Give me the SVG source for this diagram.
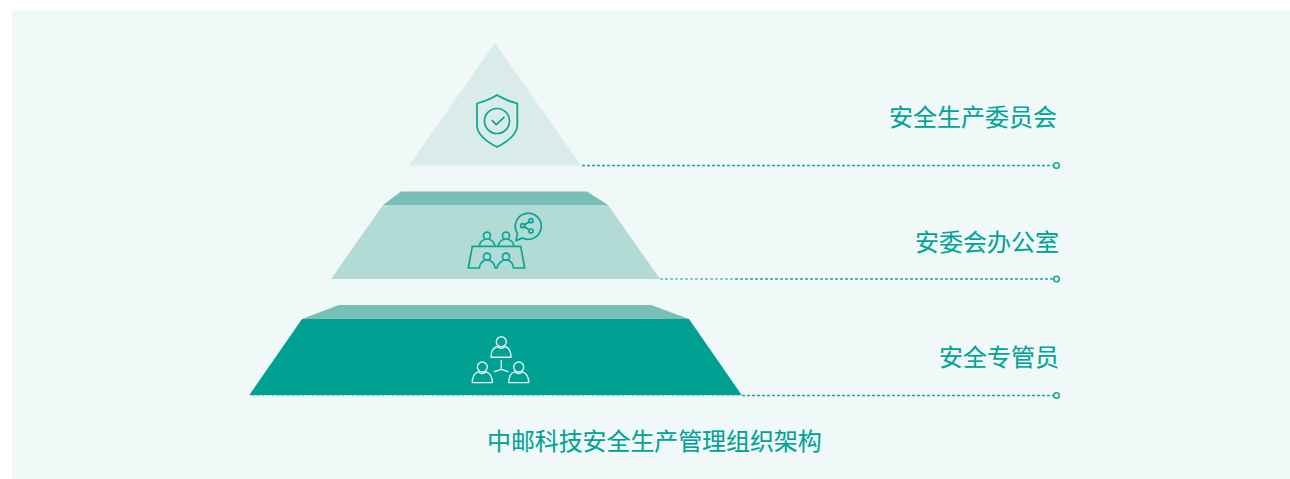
<svg xmlns="http://www.w3.org/2000/svg" width="1290" height="479" viewBox="0 0 1290 479">
<style>
text{font-family:"Noto Sans CJK SC","Noto Sans",sans-serif;font-size:24px;fill:#00a396;stroke:#00a396;stroke-width:.1}
.lbl{text-anchor:end}
.ic{fill:none;stroke:#0aa595;stroke-width:1.7;stroke-linejoin:round;stroke-linecap:round}
.iw{fill:none;stroke:#dff1ee;stroke-width:1.4;stroke-linejoin:round;stroke-linecap:round}
.d{fill:none;stroke:#1aaa9c;stroke-width:1.3;stroke-dasharray:3 2}
.dot{fill:#f0f8f8;stroke:#14a698;stroke-width:1.5}
</style>
<rect x="12" y="10" width="1278" height="469" fill="#f0f8f8"/>
<g id="tier-top">
<polygon points="495,43 581,165.500 409,165.500" fill="#daece9"/>
<path class="ic" d="M497,95 C491,99 484,101.500 477,103.500 V125 C477,135 487,142 497,147 C507,142 517.300,135 517.300,125 V103.500 C510,101.500 503,99 497,95Z"/>
<circle class="ic" cx="497" cy="121" r="12.500"/>
<path class="ic" d="M492.300,120.700 L496.300,124.700 L504,117.300"/>
</g>
<g id="tier-middle">
<polygon points="383,205 401,191.500 587,191.500 608,205" fill="#78c0b7"/>
<polygon points="383,205 608,205 660,279 331,279" fill="#b3dbd5"/>
<path class="ic" d="M516,240.700 L517.500,233.500 A13,13 0 1 1 522.500,237.900Z"/>
<path class="ic" d="M524.500,224.800 L529.300,221.700 M524.500,226.700 L529.300,230"/>
<circle class="ic" cx="531" cy="220.700" r="2"/>
<circle class="ic" cx="522.700" cy="225.700" r="2"/>
<circle class="ic" cx="531" cy="231" r="2"/>
<circle class="ic" cx="487" cy="235.700" r="3.500"/>
<circle class="ic" cx="506" cy="235.700" r="3.500"/>
<path class="ic" d="M479.300,246 C480,241.500 483,240 484.500,239.500 M489.500,239.500 C491,240 494,241.500 495,246 M498.300,246 C499,241.500 502,240 503.500,239.500 M508.500,239.500 C510,240 513,241.500 514,246"/>
<path class="ic" d="M472.300,246.300 H520.700 L524.700,268 H513.500 C513,263 510,261 508.500,260.300 C507,259.800 505,259.800 503.500,260.300 C502,261 498,263 497,268 H495 C494.500,263 491,261 489.500,260.300 C488,259.800 486,259.800 484.500,260.300 C483,261 480,263 479.300,268 H468.300Z"/>
<circle class="ic" cx="487" cy="256.700" r="3.500"/>
<circle class="ic" cx="506" cy="256.700" r="3.500"/>
</g>
<g id="tier-bottom">
<polygon points="302,319 339,305 651,305 689,319" fill="#78c0b7"/>
<polygon points="302,319 689,319 742,395.500 249,395.500" fill="#00a093"/>
<line x1="249" y1="395.500" x2="742" y2="395.500" stroke="#d5eeea" stroke-width="1" stroke-dasharray="3 2"/>
<g id="person-a" class="iw">
<circle cx="501.300" cy="341.700" r="5"/>
<path d="M497,346.500 C493,348 491,351 491,357.300 H511 C511,351 509,348 505.500,346.500 C503,348.500 499.500,348.500 497,346.500Z"/>
</g>
<g class="iw">
<circle cx="482.300" cy="367" r="5"/>
<path d="M478,371.800 C474,373.300 472.300,376.300 472.300,382.600 H492.300 C492.300,376.300 490.300,373.300 486.500,371.800 C484,373.800 480.500,373.800 478,371.800Z"/>
</g>
<g class="iw">
<circle cx="518.700" cy="367" r="5"/>
<path d="M514.400,371.800 C510.400,373.300 508.700,376.300 508.700,382.600 H528.700 C528.700,376.300 526.700,373.300 522.900,371.800 C520.400,373.800 516.900,373.800 514.400,371.800Z"/>
</g>
<path class="iw" d="M501.300,360.700 V369.300 M494.300,371.700 L501.300,369.300 L508,371.700"/>
</g>
<g id="connectors">
<line class="d" x1="582" y1="165.500" x2="1053" y2="165.500"/>
<circle class="dot" cx="1056.500" cy="165.500" r="2.800"/>
<line x1="660" y1="279" x2="735" y2="279" stroke="#5cc4b8" stroke-width="1.300" stroke-dasharray="3 2"/>
<line class="d" x1="735" y1="279" x2="1053" y2="279"/>
<circle class="dot" cx="1056.500" cy="279" r="2.800"/>
<line class="d" x1="742" y1="395.500" x2="1053" y2="395.500"/>
<circle class="dot" cx="1056.500" cy="395.500" r="2.800"/>
</g>
<g id="label-1"><text class="lbl" x="1057" y="126">安全生产委员会</text></g>
<g id="label-2"><text class="lbl" x="1059" y="251">安委会办公室</text></g>
<g id="label-3"><text class="lbl" x="1059" y="366">安全专管员</text></g>
<g id="title"><text x="487" y="450" letter-spacing="-0.1">中邮科技安全生产管理组织架构</text></g>
</svg>
